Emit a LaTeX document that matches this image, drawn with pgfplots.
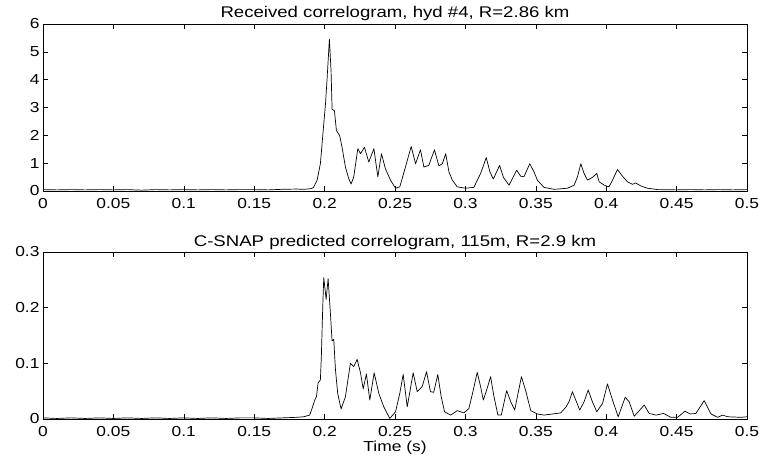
\documentclass[border=0pt]{standalone}
\usepackage{fontspec}
\setmainfont{Liberation Sans}[FakeStretch=1.2]
\usepackage{pgfplots}
\pgfplotsset{compat=1.18}
\pgfplotsset{
  corr/.style={
    scale only axis, width=704pt, height=167pt,
    xmin=0, xmax=0.5,
    xtick={0,0.05,0.1,0.15,0.2,0.25,0.3,0.35,0.4,0.45,0.5},
    xticklabels={0,0.05,0.1,0.15,0.2,0.25,0.3,0.35,0.4,0.45,0.5},
    tick pos=both, tick align=inside,
    major tick length=5pt,
    axis line style={black, line width=0.6pt},
    tick style={black, line width=0.6pt},
    tick label style={font=\fontsize{14.5}{16}\selectfont},
    xticklabel style={yshift=-4pt},
    /pgf/number format/assume math mode=true,
    title style={font=\fontsize{15.5}{17}\selectfont, anchor=base, at={(0.5,1)}},
    label style={font=\fontsize{14.5}{16}\selectfont},
  }
}
\begin{document}
\begin{tikzpicture}
\useasboundingbox (0,0) rectangle (763pt,457pt);
% upper panel: received
\begin{axis}[corr, at={(43pt,266pt)}, anchor=south west,
  ymin=0, ymax=6, ytick={0,1,2,3,4,5,6},
  title style={yshift=1pt},
  title={Received correlogram, hyd \#4, R=2.86 km}]
\addplot[black, no marks, line width=0.7pt, line join=round] coordinates {
(0,0.05)(0.01,0.04)(0.02,0.05)(0.03,0.04)(0.04,0.05)(0.05,0.04)(0.06,0.05)(0.07,0.03)
(0.08,0.05)(0.09,0.04)(0.1,0.05)(0.11,0.04)(0.12,0.05)(0.13,0.04)(0.14,0.05)(0.15,0.05)
(0.16,0.04)(0.17,0.06)(0.18,0.07)(0.185,0.06)(0.19,0.08)
(0.192,0.12)(0.1947,0.39)(0.197,0.98)(0.199,2.17)(0.2006,3.11)(0.2018,4.06)(0.2034,5.45)
(0.2046,4.3)(0.2053,2.94)(0.207,2.88)(0.2084,2.17)(0.2107,1.99)(0.2124,1.57)(0.2148,0.86)
(0.2171,0.45)(0.2188,0.25)(0.2207,0.51)(0.2236,1.52)(0.2255,1.34)(0.2283,1.57)(0.2314,1.04)
(0.235,1.52)(0.2378,0.51)(0.2404,1.34)(0.2432,0.8)(0.2468,0.39)(0.2504,0.1)(0.2534,0.15)
(0.2568,0.75)(0.2615,1.6)(0.2646,0.98)(0.2681,1.48)(0.2705,0.86)(0.274,0.92)(0.278,1.48)
(0.2812,0.9)(0.2836,0.98)(0.286,1.34)(0.2883,0.69)(0.2907,0.39)(0.2942,0.15)(0.3001,0.1)
(0.306,0.13)(0.3108,0.63)(0.3148,1.2)(0.3174,0.69)(0.3198,0.43)(0.3243,0.92)(0.327,0.49)
(0.331,0.21)(0.3364,0.75)(0.3393,0.53)(0.3416,0.51)(0.3457,0.98)(0.3487,0.69)(0.3511,0.39)
(0.3558,0.13)(0.363,0.06)(0.3725,0.1)(0.3772,0.21)(0.3796,0.51)(0.382,0.98)(0.3843,0.63)
(0.3867,0.39)(0.3902,0.49)(0.3933,0.63)(0.395,0.33)(0.3985,0.21)(0.402,0.15)(0.4045,0.39)
(0.408,0.77)(0.4116,0.53)(0.4151,0.33)(0.4187,0.24)(0.421,0.29)(0.4246,0.18)(0.4293,0.1)
(0.4365,0.05)(0.45,0.04)(0.46,0.05)(0.47,0.04)(0.48,0.05)(0.49,0.04)(0.5,0.05)
};
\end{axis}
% lower panel: C-SNAP prediction
\begin{axis}[corr, at={(43pt,38pt)}, anchor=south west,
  ymin=0, ymax=0.3, ytick={0,0.1,0.2,0.3}, yticklabels={0,0.1,0.2,0.3},
  title style={yshift=-1pt},
  title={C-SNAP predicted correlogram, 115m, R=2.9 km},
  xlabel={Time (s)}, xlabel style={inner sep=1pt}]
\addplot[black, no marks, line width=0.7pt, line join=round] coordinates {
(0,0.002)(0.01,0.001)(0.02,0.002)(0.03,0.001)(0.04,0.002)(0.05,0.001)(0.06,0.002)(0.07,0.001)
(0.08,0.002)(0.09,0.001)(0.1,0.002)(0.11,0.001)(0.12,0.002)(0.13,0.001)(0.14,0.002)(0.15,0.002)
(0.16,0.001)(0.17,0.002)(0.18,0.003)(0.1851,0.004)(0.1894,0.007)(0.1911,0.019)(0.193,0.034)
(0.1942,0.04)(0.1954,0.065)(0.197,0.07)(0.1977,0.113)(0.1987,0.203)(0.1994,0.254)(0.2011,0.215)
(0.2025,0.252)(0.2041,0.191)(0.2053,0.14)(0.2065,0.143)(0.2077,0.089)(0.2093,0.046)(0.2117,0.018)
(0.2148,0.04)(0.2183,0.1)(0.2207,0.094)(0.2231,0.107)(0.2255,0.083)(0.2274,0.054)(0.2297,0.081)
(0.2321,0.034)(0.2352,0.083)(0.2385,0.046)(0.242,0.022)(0.2463,0.001)(0.2504,0.013)(0.2534,0.046)
(0.2558,0.08)(0.2587,0.022)(0.2629,0.083)(0.2658,0.049)(0.2693,0.058)(0.2724,0.085)(0.2752,0.049)
(0.2775,0.048)(0.2804,0.08)(0.2828,0.04)(0.2852,0.013)(0.2895,0.007)(0.2942,0.015)(0.299,0.011)
(0.3025,0.019)(0.3056,0.052)(0.3084,0.084)(0.3108,0.058)(0.3127,0.034)(0.3151,0.052)(0.3179,0.076)
(0.3203,0.04)(0.3231,0.007)(0.3255,0.007)(0.3293,0.051)(0.3322,0.031)(0.335,0.016)(0.3398,0.076)
(0.3428,0.051)(0.3464,0.015)(0.3511,0.009)(0.3558,0.007)(0.3618,0.009)(0.3677,0.011)(0.3713,0.021)
(0.3736,0.031)(0.376,0.049)(0.3784,0.034)(0.3812,0.016)(0.3843,0.031)(0.3872,0.052)(0.3902,0.031)
(0.3933,0.013)(0.3974,0.028)(0.4009,0.063)(0.4045,0.034)(0.4085,0.004)(0.4135,0.039)(0.4163,0.031)
(0.4199,0.005)(0.427,0.025)(0.4305,0.01)(0.4353,0.007)(0.4407,0.01)(0.4459,0.003)(0.4507,0.003)
(0.4559,0.014)(0.4597,0.009)(0.4637,0.01)(0.4696,0.033)(0.4744,0.009)(0.4792,0.003)(0.4827,0.007)
(0.4863,0.004)(0.4957,0.003)(0.5,0.004)
};
\end{axis}
\end{tikzpicture}
\end{document}
